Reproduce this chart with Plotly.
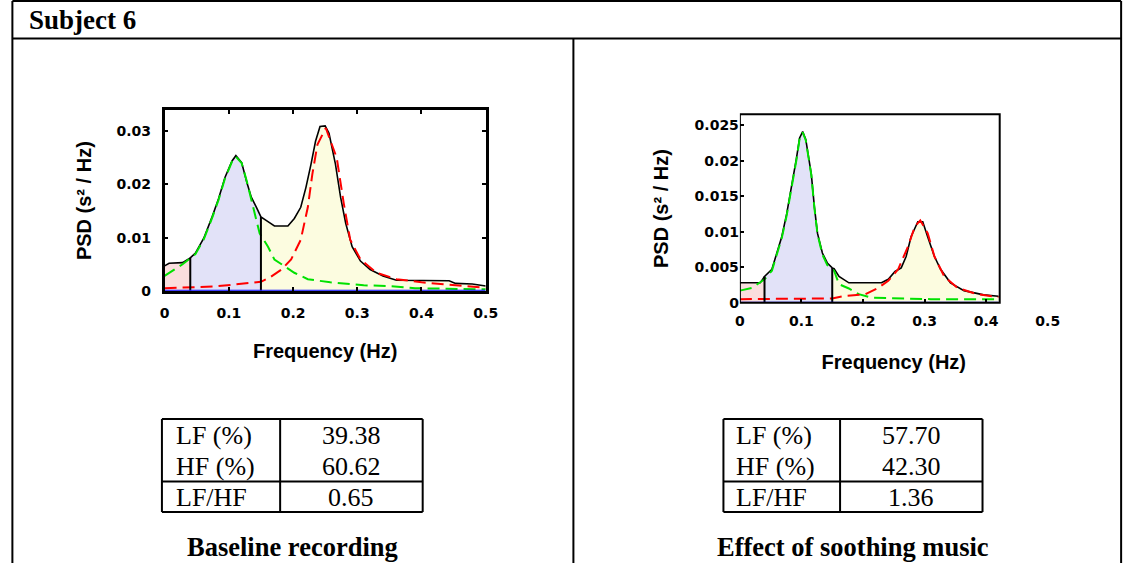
import numpy as np
import plotly.graph_objects as go

W, H = 1141, 571

# ---------------- data ----------------
VLF_EDGE = 0.04
LF_EDGE = 0.15

# Baseline recording: total PSD (black)
base_freq = [0.0, 0.007, 0.028, 0.035, 0.04, 0.048, 0.061, 0.074, 0.084, 0.094, 0.105, 0.111,
             0.12, 0.128, 0.135, 0.143, 0.15, 0.161, 0.171, 0.192, 0.202, 0.212, 0.22, 0.228,
             0.235, 0.242, 0.25, 0.256, 0.266, 0.274, 0.282, 0.292, 0.305, 0.32, 0.34, 0.361,
             0.397, 0.443, 0.453, 0.479, 0.5]
base_psd = [0.0047, 0.0052, 0.0053, 0.0058, 0.0062, 0.0071, 0.0099, 0.0139, 0.0173, 0.0213, 0.0244,
            0.0254, 0.0241, 0.0204, 0.0176, 0.0157, 0.0139, 0.0130, 0.0122, 0.0122, 0.0136, 0.0157,
            0.0194, 0.0238, 0.0281, 0.0309, 0.0310, 0.0296, 0.0238, 0.0176, 0.0127, 0.0083, 0.0056,
            0.0040, 0.0028, 0.0020, 0.0019, 0.0019, 0.0014, 0.0013, 0.0009]
# Baseline LF component (green)
base_lf_freq = [0.0, 0.028, 0.048, 0.061, 0.074, 0.084, 0.094, 0.105, 0.111, 0.12, 0.128, 0.135,
                0.142, 0.148, 0.161, 0.171, 0.202, 0.223, 0.258, 0.31, 0.351, 0.39, 0.44, 0.5]
base_lf_psd = [0.0028, 0.0050, 0.0069, 0.0097, 0.0137, 0.0171, 0.0211, 0.0243, 0.0252, 0.0240,
               0.0206, 0.0172, 0.0135, 0.0108, 0.0083, 0.0059, 0.0034, 0.0022, 0.0016, 0.00105,
               0.0009, 0.0005, 0.0004, 0.0003]
# Baseline HF component (red)
base_hf_freq = [0.0, 0.04, 0.075, 0.11, 0.15, 0.165, 0.182, 0.197, 0.212, 0.223, 0.23, 0.238, 0.251,
                0.268, 0.279, 0.289, 0.305, 0.33, 0.361, 0.4, 0.464, 0.5]
base_hf_psd = [0.0005, 0.0006, 0.0008, 0.0012, 0.0017, 0.0026, 0.0040, 0.0059, 0.0096, 0.0157,
               0.0219, 0.0275, 0.0306, 0.0250, 0.0164, 0.0096, 0.0059, 0.0034, 0.0022, 0.0016,
               0.0009, 0.0006]

# Soothing music: total PSD (black)
music_freq = [0.0, 0.004, 0.033, 0.04, 0.052, 0.06, 0.068, 0.076, 0.083, 0.092, 0.097, 0.102,
              0.107, 0.116, 0.121, 0.126, 0.134, 0.142, 0.15, 0.153, 0.161, 0.177, 0.23, 0.241,
              0.252, 0.262, 0.27, 0.278, 0.289, 0.297, 0.305, 0.316, 0.326, 0.342, 0.364, 0.396, 0.42]
music_psd = [0.0028, 0.0028, 0.0028, 0.0037, 0.0047, 0.0070, 0.0093, 0.0125, 0.0158, 0.0204,
             0.0232, 0.0241, 0.0230, 0.0181, 0.0135, 0.0098, 0.0070, 0.0056, 0.0049, 0.0048,
             0.0037, 0.0028, 0.0028, 0.0033, 0.0044, 0.0049, 0.0065, 0.0093, 0.0114, 0.0114,
             0.0093, 0.0065, 0.0047, 0.0028, 0.0017, 0.0011, 0.0009]
music_lf_freq = [0.0, 0.02, 0.04, 0.052, 0.06, 0.068, 0.076, 0.083, 0.092, 0.097, 0.102, 0.107,
                 0.116, 0.121, 0.126, 0.134, 0.142, 0.153, 0.161, 0.177, 0.193, 0.214, 0.257,
                 0.31, 0.395, 0.42]
music_lf_psd = [0.0017, 0.0021, 0.0033, 0.0045, 0.0068, 0.0091, 0.0123, 0.0156, 0.0202, 0.0231,
                0.0240, 0.0229, 0.0180, 0.0134, 0.0097, 0.0068, 0.0053, 0.0045, 0.0026, 0.0020,
                0.0012, 0.0007, 0.0006, 0.0005, 0.0005, 0.0005]
music_hf_freq = [0.0, 0.04, 0.1, 0.15, 0.166, 0.204, 0.225, 0.241, 0.257, 0.273, 0.284, 0.293,
                 0.305, 0.316, 0.332, 0.353, 0.385, 0.42]
music_hf_psd = [0.0005, 0.0005, 0.0005, 0.0006, 0.0009, 0.0012, 0.0021, 0.0031, 0.0047, 0.0079,
                0.0107, 0.0116, 0.0098, 0.0065, 0.0037, 0.0021, 0.0012, 0.0008]

x_tickvals = [0, 0.1, 0.2, 0.3, 0.4, 0.5]
x_ticktext = ["0", "0.1", "0.2", "0.3", "0.4", "0.5"]
base_ytickvals = [0, 0.01, 0.02, 0.03]
base_yticktext = ["0", "0.01", "0.02", "0.03"]
music_ytickvals = [0, 0.005, 0.01, 0.015, 0.02, 0.025]
music_yticktext = ["0", "0.005", "0.01", "0.015", "0.02", "0.025"]

table_labels = ["LF (%)", "HF (%)", "LF/HF"]
base_table = ["39.38", "60.62", "0.65"]
music_table = ["57.70", "42.30", "1.36"]

header = "Subject 6"
captions = ["Baseline recording", "Effect of soothing music"]
y_title = "PSD (s² / Hz)"
x_title = "Frequency (Hz)"

# ---------------- styling ----------------
C_VLF = "rgba(250,222,222,1)"
C_LF = "rgba(226,226,248,1)"
C_HF = "rgba(252,252,224,1)"
C_GREEN = "rgb(0,225,0)"
C_RED = "rgb(255,0,0)"
C_BLUE = "rgb(0,0,255)"
SANS = "Liberation Sans"
TICKF = "DejaVu Sans"
SERIF = "Liberation Serif"


def px(x):
    return x / W


def py(y):
    return 1 - y / H


fig = go.Figure()


def add_panel(xa, ya, freq, psd, lf_f, lf_p, hf_f, hf_p, xmax):
    f = np.array(freq)
    p = np.array(psd)
    bands = [(0.0, VLF_EDGE, C_VLF), (VLF_EDGE, LF_EDGE, C_LF), (LF_EDGE, xmax, C_HF)]
    for lo, hi, col in bands:
        m = (f >= lo - 1e-9) & (f <= hi + 1e-9)
        fig.add_trace(go.Scatter(x=f[m], y=p[m], mode="lines", line=dict(width=0, color=col),
                                 fill="tozeroy", fillcolor=col, xaxis=xa, yaxis=ya,
                                 showlegend=False, hoverinfo="skip"))
    fig.add_trace(go.Scatter(x=f, y=p, mode="lines", line=dict(color="black", width=1.6),
                             xaxis=xa, yaxis=ya, showlegend=False))
    fig.add_trace(go.Scatter(x=lf_f, y=lf_p, mode="lines",
                             line=dict(color=C_GREEN, width=2, dash="12px,6px"),
                             xaxis=xa, yaxis=ya, showlegend=False))
    fig.add_trace(go.Scatter(x=hf_f, y=hf_p, mode="lines",
                             line=dict(color=C_RED, width=2, dash="12px,6px"),
                             xaxis=xa, yaxis=ya, showlegend=False))
    for edge in (VLF_EDGE, LF_EDGE):
        fig.add_trace(go.Scatter(x=[edge, edge], y=[0, float(np.interp(edge, f, p))], mode="lines",
                                 line=dict(color="black", width=2), xaxis=xa, yaxis=ya,
                                 showlegend=False))
    fig.add_trace(go.Scatter(x=[0, xmax], y=[0, 0], mode="lines", line=dict(color=C_BLUE, width=2),
                             xaxis=xa, yaxis=ya, showlegend=False))


add_panel("x", "y", base_freq, base_psd, base_lf_freq, base_lf_psd, base_hf_freq, base_hf_psd, 0.5)
add_panel("x2", "y2", music_freq, music_psd, music_lf_freq, music_lf_psd, music_hf_freq,
          music_hf_psd, 0.42)

tickfont = dict(family=TICKF, size=14, color="black", weight="bold")
titlefont = dict(family=SANS, size=20, color="black", weight="bold")
common = dict(showgrid=False, zeroline=False, ticks="inside", ticklen=4, tickwidth=1.5,
              tickcolor="black", tickfont=tickfont)

fig.update_layout(
    width=W, height=H, margin=dict(l=0, r=0, t=0, b=0),
    paper_bgcolor="white", plot_bgcolor="rgba(0,0,0,0)",
    xaxis=dict(domain=[px(162), px(488)], range=[0, 0.5], tickvals=x_tickvals,
               ticktext=x_ticktext, showline=True, mirror="ticks", linewidth=2.5,
               linecolor="black", anchor="y", ticklabelstandoff=8,
               title=dict(text=x_title, font=titlefont, standoff=24), **common),
    yaxis=dict(domain=[py(295), py(112)], range=[0, 0.0339], tickvals=base_ytickvals,
               ticktext=base_yticktext, showline=True, mirror="ticks", linewidth=2.5,
               linecolor="black", anchor="x", ticklabelstandoff=8,
               title=dict(text=y_title, font=titlefont, standoff=20), **common),
    xaxis2=dict(domain=[px(746), px(1058.5)], range=[0, 0.5], tickvals=x_tickvals,
                ticktext=x_ticktext, showline=False, anchor="y2", ticklabelstandoff=8,
                title=dict(text=x_title, font=titlefont, standoff=27), **common),
    yaxis2=dict(domain=[py(307), py(116)], range=[0, 0.02653], tickvals=music_ytickvals,
                ticktext=music_yticktext, showline=False, anchor="x2", ticklabelstandoff=0,
                title=dict(text=y_title, font=titlefont, standoff=20), **common),
)

shapes = []
# box around the second plot (cut at 0.422)
shapes.append(dict(type="rect", xref="x2", yref="y2 domain", x0=0, x1=0.422, y0=0, y1=1,
                   line=dict(color="black", width=2)))


def pline(x0, y0, x1, y1, w=2):
    shapes.append(dict(type="line", xref="paper", yref="paper", x0=px(x0), y0=py(y0),
                       x1=px(x1), y1=py(y1), line=dict(color="black", width=w)))


# outer frame
pline(7.5, 1, 1133, 1)
pline(7.5, 1, 7.5, 571)
pline(1133, 1, 1133, 571)
pline(7.5, 39, 1133, 39)
pline(577, 39, 577, 571)

# tables
for (x0, xm, x1) in [(159.3, 279.3, 424), (729.3, 847.7, 992.3)]:
    y0, ym, y1 = 425, 488.3, 519.3
    pline(x0, y0, x1, y0)
    pline(x0, y1, x1, y1)
    pline(x0, ym, x1, ym)
    pline(x0, y0, x0, y1)
    pline(x1, y0, x1, y1)
    pline(xm, y0, xm, y1)

annotations = []


def ann(text, x, y, size, family, xanchor="center", yanchor="middle", angle=0):
    annotations.append(dict(text=text, x=px(x), y=py(y), xref="paper", yref="paper",
                            showarrow=False, xanchor=xanchor, yanchor=yanchor, textangle=angle,
                            font=dict(family=family, size=size, color="black")))


ann("<b>%s</b>" % header, 22, 20, 27, SERIF, xanchor="left")
row_y = [441.7, 473.3, 505]
for (lx, vx, vals) in [(172, 351.7, base_table), (740, 920, music_table)]:
    for lab, val, yy in zip(table_labels, vals, row_y):
        ann(lab, lx, yy, 26, SERIF, xanchor="left")
        ann(val, vx, yy, 26, SERIF)
ann("<b>%s</b>" % captions[0], 292, 555, 26.5, SERIF)
ann("<b>%s</b>" % captions[1], 861, 555, 26.5, SERIF)

fig.update_layout(shapes=shapes, annotations=annotations)
fig.write_html("out.html")
